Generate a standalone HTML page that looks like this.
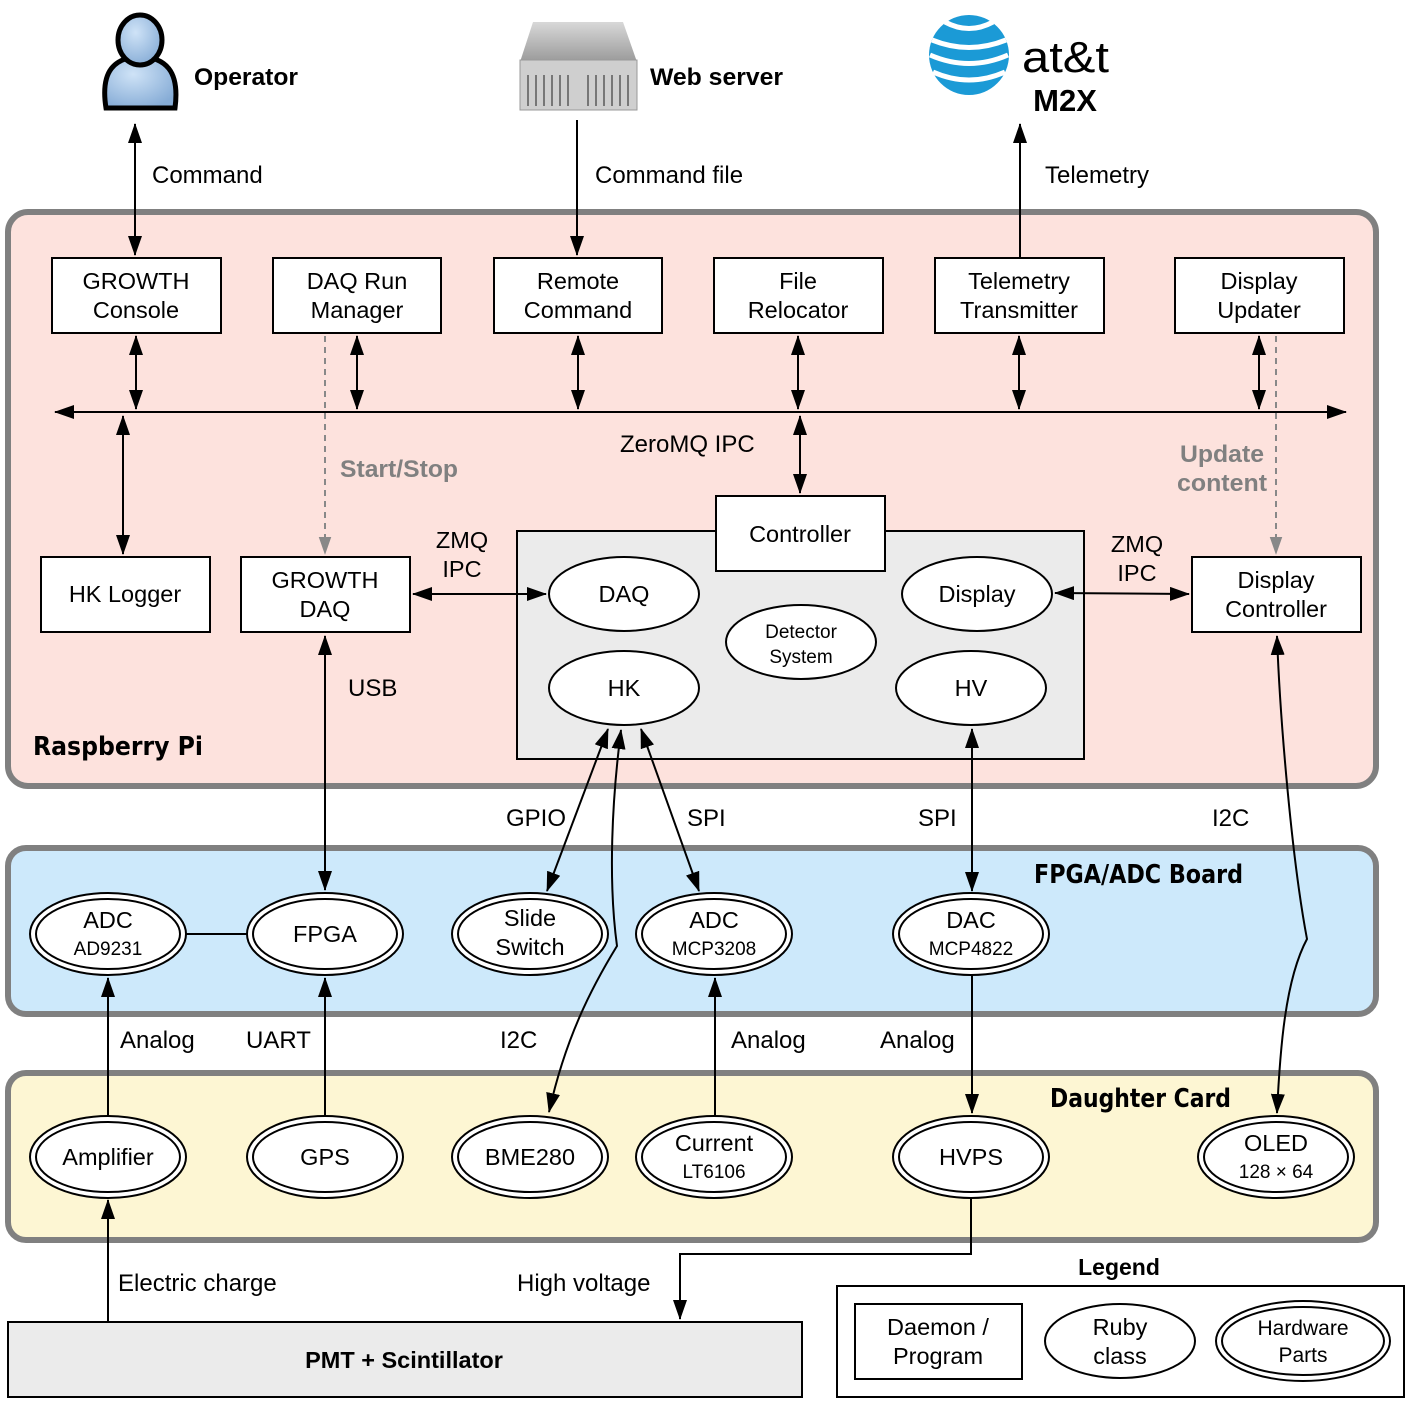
<!DOCTYPE html>
<html><head><meta charset="utf-8"><style>
html,body{margin:0;padding:0;background:#fff}
svg{display:block}
text{font-family:"Liberation Sans",sans-serif;fill:#000}
.t{font-size:23.5px;text-anchor:middle}
.s{font-size:19px;text-anchor:middle}
.b{font-weight:bold}
.l{font-size:24px}
.bx{fill:#fff;stroke:#000;stroke-width:2}
.ln{stroke:#000;stroke-width:2;fill:none}
.dl{stroke:#888;stroke-width:2;fill:none;stroke-dasharray:6,5}
.panel{stroke:#808080;stroke-width:6}
.pl{font-size:26px;font-weight:bold;font-family:"DejaVu Sans",sans-serif}
</style></head><body>
<svg width="1408" height="1402" viewBox="0 0 1408 1402" xmlns="http://www.w3.org/2000/svg">
<defs>
<marker id="a" viewBox="0 0 20 14" refX="19" refY="7" markerWidth="20" markerHeight="14" markerUnits="userSpaceOnUse" orient="auto-start-reverse"><path d="M0,0 L20,7 L0,14 z" fill="#000"/></marker>
<marker id="g" viewBox="0 0 20 14" refX="19" refY="7" markerWidth="18" markerHeight="13" markerUnits="userSpaceOnUse" orient="auto"><path d="M0,0 L20,7 L0,14 z" fill="#888"/></marker>
<radialGradient id="pg" cx="0.4" cy="0.35" r="0.7"><stop offset="0" stop-color="#cfe3f7"/><stop offset="1" stop-color="#86acd6"/></radialGradient>
<linearGradient id="sv" x1="0" y1="0" x2="0" y2="1"><stop offset="0" stop-color="#d8d8d8"/><stop offset="1" stop-color="#9a9a9a"/></linearGradient>
</defs>

<rect class="panel" x="8" y="212" width="1368" height="574" rx="20" fill="#fde2dd"/>
<rect class="panel" x="8" y="848" width="1368" height="166" rx="18" fill="#cde9fb"/>
<rect class="panel" x="8" y="1073" width="1368" height="167" rx="18" fill="#fdf6d3"/>
<rect x="8" y="1322" width="794" height="75" fill="#ebebeb" stroke="#000" stroke-width="2"/>
<text class="t b" x="404" y="1368">PMT + Scintillator</text>

<g>
<path d="M106,108 C100,70 115,58 140,56 C165,58 180,70 175,108 Z" fill="url(#pg)" stroke="#000" stroke-width="5"/>
<ellipse cx="140" cy="40" rx="22" ry="25" fill="url(#pg)" stroke="#000" stroke-width="5"/>
</g>
<text x="194" y="85" style="font-size:24px;font-weight:bold" textLength="104" lengthAdjust="spacingAndGlyphs">Operator</text>
<path d="M533,22 L623,22 L637,62 L520,62 Z" fill="url(#sv)"/>
<rect x="520" y="60" width="117" height="50" fill="#cfcfcf" stroke="#999"/>
<g stroke="#777" stroke-width="2"><line x1="528" y1="75" x2="528" y2="106"/><line x1="536" y1="75" x2="536" y2="106"/><line x1="544" y1="75" x2="544" y2="106"/><line x1="552" y1="75" x2="552" y2="106"/><line x1="560" y1="75" x2="560" y2="106"/><line x1="568" y1="75" x2="568" y2="106"/><line x1="588" y1="75" x2="588" y2="106"/><line x1="596" y1="75" x2="596" y2="106"/><line x1="604" y1="75" x2="604" y2="106"/><line x1="612" y1="75" x2="612" y2="106"/><line x1="620" y1="75" x2="620" y2="106"/><line x1="628" y1="75" x2="628" y2="106"/></g>
<text x="650" y="85" style="font-size:24px;font-weight:bold" textLength="133" lengthAdjust="spacingAndGlyphs">Web server</text>
<circle cx="969" cy="55" r="40" fill="#1b9ad6"/>
<g stroke="#fff" stroke-width="5" fill="none"><path d="M932,40 Q969,55 1006,40"/><path d="M930,55 Q969,72 1008,55"/><path d="M933,72 Q969,88 1005,72"/><path d="M945,22 Q969,35 993,22"/></g>
<text x="1022" y="72" style="font-size:44px" textLength="87" lengthAdjust="spacingAndGlyphs">at&amp;t</text>
<text x="1065" y="111" style="font-size:31px;font-weight:bold;text-anchor:middle">M2X</text>

<line class="ln" x1="135" y1="124" x2="135" y2="255" marker-start="url(#a)" marker-end="url(#a)"/>
<text class="l" x="152" y="183">Command</text>
<line class="ln" x1="577" y1="120" x2="577" y2="255" marker-end="url(#a)"/>
<text class="l" x="595" y="183">Command file</text>
<line class="ln" x1="1020" y1="258" x2="1020" y2="124" marker-end="url(#a)"/>
<text class="l" x="1045" y="183">Telemetry</text>

<rect class="bx" x="52" y="258" width="169" height="75"/><text class="t" x="136" y="289">GROWTH</text><text class="t" x="136" y="318">Console</text>
<rect class="bx" x="273" y="258" width="168" height="75"/><text class="t" x="357" y="289">DAQ Run</text><text class="t" x="357" y="318">Manager</text>
<rect class="bx" x="494" y="258" width="168" height="75"/><text class="t" x="578" y="289">Remote</text><text class="t" x="578" y="318">Command</text>
<rect class="bx" x="714" y="258" width="169" height="75"/><text class="t" x="798" y="289">File</text><text class="t" x="798" y="318">Relocator</text>
<rect class="bx" x="935" y="258" width="169" height="75"/><text class="t" x="1019" y="289">Telemetry</text><text class="t" x="1019" y="318">Transmitter</text>
<rect class="bx" x="1175" y="258" width="169" height="75"/><text class="t" x="1259" y="289">Display</text><text class="t" x="1259" y="318">Updater</text>

<line class="ln" x1="55" y1="412" x2="1346" y2="412" marker-start="url(#a)" marker-end="url(#a)"/>
<line class="ln" x1="136" y1="336" x2="136" y2="409" marker-start="url(#a)" marker-end="url(#a)"/>
<line class="ln" x1="357" y1="336" x2="357" y2="409" marker-start="url(#a)" marker-end="url(#a)"/>
<line class="ln" x1="578" y1="336" x2="578" y2="409" marker-start="url(#a)" marker-end="url(#a)"/>
<line class="ln" x1="798" y1="336" x2="798" y2="409" marker-start="url(#a)" marker-end="url(#a)"/>
<line class="ln" x1="1019" y1="336" x2="1019" y2="409" marker-start="url(#a)" marker-end="url(#a)"/>
<line class="ln" x1="1259" y1="336" x2="1259" y2="409" marker-start="url(#a)" marker-end="url(#a)"/>
<line class="ln" x1="123" y1="416" x2="123" y2="554" marker-start="url(#a)" marker-end="url(#a)"/>
<line class="ln" x1="800" y1="416" x2="800" y2="493" marker-start="url(#a)" marker-end="url(#a)"/>
<text class="l" x="620" y="452">ZeroMQ IPC</text>

<line class="dl" x1="325" y1="336" x2="325" y2="554" marker-end="url(#g)"/>
<text x="340" y="477" style="font-size:24px;font-weight:bold;fill:#808080" textLength="118" lengthAdjust="spacingAndGlyphs">Start/Stop</text>
<line class="dl" x1="1276" y1="336" x2="1276" y2="554" marker-end="url(#g)"/>
<text x="1180" y="462" style="font-size:24px;font-weight:bold;fill:#808080" textLength="84" lengthAdjust="spacingAndGlyphs">Update</text>
<text x="1177" y="491" style="font-size:24px;font-weight:bold;fill:#808080" textLength="90" lengthAdjust="spacingAndGlyphs">content</text>

<rect class="bx" x="41" y="557" width="169" height="75"/><text class="t" x="125" y="602">HK Logger</text>
<rect class="bx" x="241" y="557" width="169" height="75"/><text class="t" x="325" y="588">GROWTH</text><text class="t" x="325" y="617">DAQ</text>
<rect class="bx" x="1192" y="557" width="169" height="75"/><text class="t" x="1276" y="588">Display</text><text class="t" x="1276" y="617">Controller</text>

<rect x="517" y="531" width="567" height="228" fill="#ebebeb" stroke="#000" stroke-width="2"/>
<rect class="bx" x="716" y="496" width="169" height="75"/><text class="t" x="800" y="542">Controller</text>
<ellipse class="bx" cx="624" cy="594" rx="75" ry="37"/><text class="t" x="624" y="602">DAQ</text>
<ellipse class="bx" cx="977" cy="594" rx="75" ry="37"/><text class="t" x="977" y="602">Display</text>
<ellipse class="bx" cx="801" cy="642" rx="75" ry="37"/><text class="s" x="801" y="638">Detector</text><text class="s" x="801" y="663">System</text>
<ellipse class="bx" cx="624" cy="688" rx="75" ry="37"/><text class="t" x="624" y="696">HK</text>
<ellipse class="bx" cx="971" cy="688" rx="75" ry="37"/><text class="t" x="971" y="696">HV</text>

<line class="ln" x1="413" y1="594" x2="546" y2="594" marker-start="url(#a)" marker-end="url(#a)"/>
<text class="t" x="462" y="548">ZMQ</text><text class="t" x="462" y="577">IPC</text>
<line class="ln" x1="1055" y1="593" x2="1189" y2="594" marker-start="url(#a)" marker-end="url(#a)"/>
<text class="t" x="1137" y="552">ZMQ</text><text class="t" x="1137" y="581">IPC</text>

<text class="pl" x="33" y="755" textLength="170" lengthAdjust="spacingAndGlyphs">Raspberry Pi</text>

<line class="ln" x1="325" y1="636" x2="325" y2="890" marker-start="url(#a)" marker-end="url(#a)"/>
<text class="l" x="348" y="696">USB</text>
<line class="ln" x1="608" y1="729" x2="547" y2="891" marker-start="url(#a)" marker-end="url(#a)"/>
<line class="ln" x1="641" y1="729" x2="699" y2="891" marker-start="url(#a)" marker-end="url(#a)"/>
<path class="ln" d="M621,730 C612,800 608,880 617,946 C590,990 565,1040 549,1112" marker-start="url(#a)" marker-end="url(#a)"/>
<line class="ln" x1="972" y1="729" x2="972" y2="891" marker-start="url(#a)" marker-end="url(#a)"/>
<path class="ln" d="M1277,636 C1280,720 1292,860 1307,939 C1285,980 1280,1050 1277,1113" marker-start="url(#a)" marker-end="url(#a)"/>
<text class="l" x="506" y="826">GPIO</text>
<text class="l" x="687" y="826">SPI</text>
<text class="l" x="918" y="826">SPI</text>
<text class="l" x="1212" y="826">I2C</text>

<text class="pl" x="1034" y="883" textLength="209" lengthAdjust="spacingAndGlyphs">FPGA/ADC Board</text>
<text class="pl" x="1050" y="1107" textLength="181" lengthAdjust="spacingAndGlyphs">Daughter Card</text>

<line class="ln" x1="185" y1="934" x2="248" y2="934"/>
<g>
<ellipse class="bx" cx="108" cy="934" rx="78" ry="41"/><ellipse class="bx" cx="108" cy="934" rx="72" ry="35"/>
<ellipse class="bx" cx="325" cy="934" rx="78" ry="41"/><ellipse class="bx" cx="325" cy="934" rx="72" ry="35"/>
<ellipse class="bx" cx="530" cy="934" rx="78" ry="41"/><ellipse class="bx" cx="530" cy="934" rx="72" ry="35"/>
<ellipse class="bx" cx="714" cy="934" rx="78" ry="41"/><ellipse class="bx" cx="714" cy="934" rx="72" ry="35"/>
<ellipse class="bx" cx="971" cy="934" rx="78" ry="41"/><ellipse class="bx" cx="971" cy="934" rx="72" ry="35"/>
<ellipse class="bx" cx="108" cy="1157" rx="78" ry="41"/><ellipse class="bx" cx="108" cy="1157" rx="72" ry="35"/>
<ellipse class="bx" cx="325" cy="1157" rx="78" ry="41"/><ellipse class="bx" cx="325" cy="1157" rx="72" ry="35"/>
<ellipse class="bx" cx="530" cy="1157" rx="78" ry="41"/><ellipse class="bx" cx="530" cy="1157" rx="72" ry="35"/>
<ellipse class="bx" cx="714" cy="1157" rx="78" ry="41"/><ellipse class="bx" cx="714" cy="1157" rx="72" ry="35"/>
<ellipse class="bx" cx="971" cy="1157" rx="78" ry="41"/><ellipse class="bx" cx="971" cy="1157" rx="72" ry="35"/>
<ellipse class="bx" cx="1276" cy="1157" rx="78" ry="41"/><ellipse class="bx" cx="1276" cy="1157" rx="72" ry="35"/>
</g>
<text class="t" x="108" y="928">ADC</text><text class="s" x="108" y="955">AD9231</text>
<text class="t" x="325" y="942">FPGA</text>
<text class="t" x="530" y="926">Slide</text><text class="t" x="530" y="955">Switch</text>
<text class="t" x="714" y="928">ADC</text><text class="s" x="714" y="955">MCP3208</text>
<text class="t" x="971" y="928">DAC</text><text class="s" x="971" y="955">MCP4822</text>
<text class="t" x="108" y="1165">Amplifier</text>
<text class="t" x="325" y="1165">GPS</text>
<text class="t" x="530" y="1165">BME280</text>
<text class="t" x="714" y="1151">Current</text><text class="s" x="714" y="1178">LT6106</text>
<text class="t" x="971" y="1165">HVPS</text>
<text class="t" x="1276" y="1151">OLED</text><text class="s" x="1276" y="1178">128 × 64</text>

<line class="ln" x1="108" y1="1116" x2="108" y2="978" marker-end="url(#a)"/>
<line class="ln" x1="325" y1="1116" x2="325" y2="978" marker-end="url(#a)"/>
<line class="ln" x1="715" y1="1116" x2="715" y2="978" marker-end="url(#a)"/>
<line class="ln" x1="972" y1="975" x2="972" y2="1113" marker-end="url(#a)"/>
<text class="l" x="120" y="1048">Analog</text>
<text class="l" x="246" y="1048">UART</text>
<text class="l" x="500" y="1048">I2C</text>
<text class="l" x="731" y="1048">Analog</text>
<text class="l" x="880" y="1048">Analog</text>
<line class="ln" x1="108" y1="1322" x2="108" y2="1200" marker-end="url(#a)"/>
<text class="l" x="118" y="1291">Electric charge</text>
<path class="ln" d="M971,1198 L971,1254 L680,1254 L680,1319" marker-end="url(#a)"/>
<text class="l" x="517" y="1291">High voltage</text>

<text x="1119" y="1275" style="font-size:23px;font-weight:bold;text-anchor:middle">Legend</text>
<rect x="837" y="1286" width="567" height="111" fill="#fff" stroke="#000" stroke-width="2"/>
<rect class="bx" x="855" y="1304" width="167" height="75"/><text class="t" x="938" y="1335">Daemon /</text><text class="t" x="938" y="1364">Program</text>
<ellipse class="bx" cx="1120" cy="1341" rx="75" ry="37"/><text class="t" x="1120" y="1335">Ruby</text><text class="t" x="1120" y="1364">class</text>
<ellipse class="bx" cx="1303" cy="1341" rx="87" ry="40"/><ellipse class="bx" cx="1303" cy="1341" rx="81" ry="34"/>
<text class="s" x="1303" y="1335" style="font-size:21px">Hardware</text><text class="s" x="1303" y="1362" style="font-size:21px">Parts</text>
</svg>
</body></html>
